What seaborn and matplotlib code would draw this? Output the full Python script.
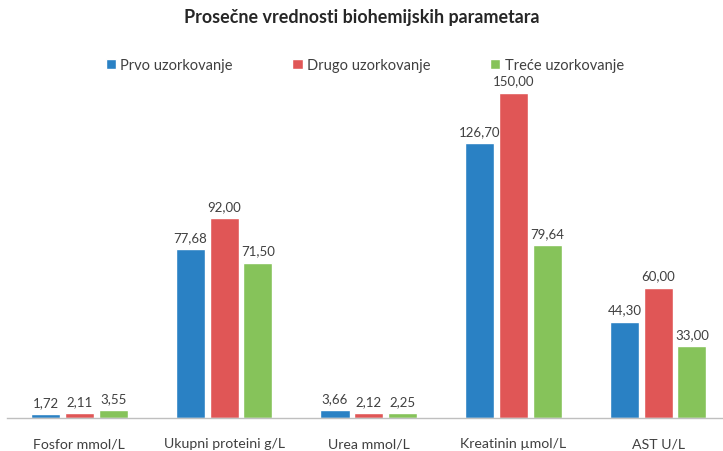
import pandas as pd
import matplotlib.pyplot as plt
import seaborn as sns

sns.set_theme(style="white")
plt.rcParams["font.family"] = ["Lato", "DejaVu Sans"]

# Chart data
categories = ["Fosfor mmol/L", "Ukupni proteini g/L", "Urea mmol/L", "Kreatinin µmol/L", "AST U/L"]
series_names = ["Prvo uzorkovanje", "Drugo uzorkovanje", "Treće uzorkovanje"]
prvo = [1.72, 77.68, 3.66, 126.70, 44.30]
drugo = [2.11, 92.00, 2.12, 150.00, 60.00]
trece = [3.55, 71.50, 2.25, 79.64, 33.00]

colors = ["#2a81c4", "#e05656", "#86c35a"]

df = pd.DataFrame({
    "kategorija": categories * 3,
    "serija": [series_names[0]] * 5 + [series_names[1]] * 5 + [series_names[2]] * 5,
    "vrednost": prvo + drugo + trece,
})

fig = plt.figure(figsize=(7.23, 4.52), dpi=100)
# plot area runs a bit past the right edge, like in the original
ax = fig.add_axes([7 / 723, 33 / 452, 723.5 / 723, 0.768])

sns.barplot(data=df, x="kategorija", y="vrednost", hue="serija", palette=colors,
            width=0.70, gap=0.14, saturation=1, ax=ax)

for container in ax.containers:
    labels = [f"{v:.2f}".replace(".", ",") for v in container.datavalues]
    ax.bar_label(container, labels=labels, padding=4.5, fontsize=9.5, color="#404040")

ax.set_ylim(0, 160)
ax.set_xlim(-0.5, 4.5)
ax.set_xlabel("")
ax.set_ylabel("")
ax.set_yticks([])
ax.tick_params(axis="x", length=0, pad=14, labelsize=10.2, labelcolor="#404040")

for side in ["top", "left", "right"]:
    ax.spines[side].set_visible(False)
ax.spines["bottom"].set_color("#bfbfbf")
ax.spines["bottom"].set_linewidth(1)

ax.legend(loc="center", bbox_to_anchor=(0.5 - 4 / 723, (452 - 66 - 33) / 347), ncol=3, frameon=False,
          handlelength=0.7, handleheight=0.7, handletextpad=0.3, columnspacing=4.1,
          fontsize=10.5, labelcolor="#404040")

fig.suptitle("Prosečne vrednosti biohemijskih parametara", y=1 - 18 / 452, va="center",
             fontsize=12.9, fontweight="bold", color="#262626")

fig.savefig("out.png", dpi=100)
